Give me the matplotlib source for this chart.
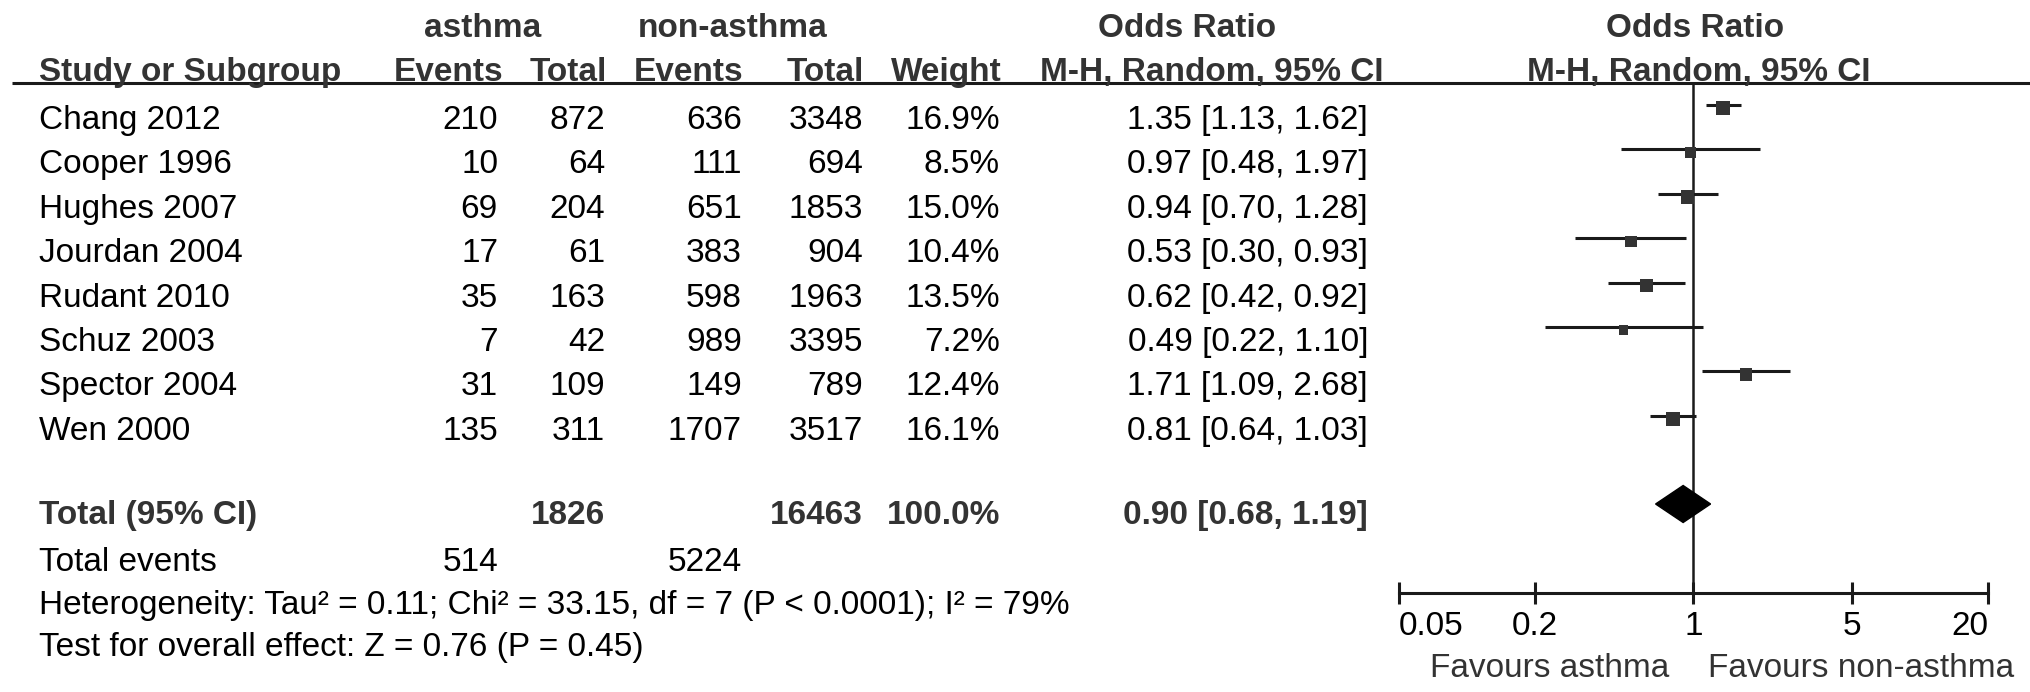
import numpy as np
import matplotlib
matplotlib.use("Agg")
import matplotlib.pyplot as plt
from matplotlib.patches import Polygon
from matplotlib.ticker import NullLocator

plt.rcParams['font.family'] = ['Liberation Sans', 'DejaVu Sans']

# data
studies = ["Chang 2012", "Cooper 1996", "Hughes 2007", "Jourdan 2004",
           "Rudant 2010", "Schuz 2003", "Spector 2004", "Wen 2000"]
asthma_events = [210, 10, 69, 17, 35, 7, 31, 135]
asthma_total = [872, 64, 204, 61, 163, 42, 109, 311]
non_events = [636, 111, 651, 383, 598, 989, 149, 1707]
non_total = [3348, 694, 1853, 904, 1963, 3395, 789, 3517]
weights = [16.9, 8.5, 15.0, 10.4, 13.5, 7.2, 12.4, 16.1]
odds = [1.35, 0.97, 0.94, 0.53, 0.62, 0.49, 1.71, 0.81]
ci_low = [1.13, 0.48, 0.70, 0.30, 0.42, 0.22, 1.09, 0.64]
ci_high = [1.62, 1.97, 1.28, 0.93, 0.92, 1.10, 2.68, 1.03]

total_asthma = 1826
total_non = 16463
total_events_asthma = 514
total_events_non = 5224
total_or = [0.90, 0.68, 1.19]  # estimate, low, high

tick_vals = [0.05, 0.2, 1, 5, 20]
tick_labels = ["0.05", "0.2", "1", "5", "20"]

heterogeneity = "Heterogeneity: Tau² = 0.11; Chi² = 33.15, df = 7 (P < 0.0001); I² = 79%"
overall = "Test for overall effect: Z = 0.76 (P = 0.45)"

W, H = 2031, 692
fs = 24
hdr_col = '#333333'
line_col = '#1a1a1a'

fig = plt.figure(figsize=(W / 100, H / 100), dpi=100)
tab = fig.add_axes([0, 0, 1, 1])
tab.set_xlim(0, W)
tab.set_ylim(H, 0)
tab.axis('off')

def txt(x, y, s, ha='left', bold=False, color='black'):
    tab.text(x, y, s, ha=ha, va='baseline', fontsize=fs,
             fontweight='bold' if bold else 'normal', color=color)

# header
txt(483, 37, "asthma", 'center', True, hdr_col)
txt(733, 37, "non-asthma", 'center', True, hdr_col)
txt(1187, 37, "Odds Ratio", 'center', True, hdr_col)
txt(1695, 37, "Odds Ratio", 'center', True, hdr_col)
txt(39, 81, "Study or Subgroup", 'left', True, hdr_col)
txt(503, 81, "Events", 'right', True, hdr_col)
txt(607, 81, "Total", 'right', True, hdr_col)
txt(743, 81, "Events", 'right', True, hdr_col)
txt(864, 81, "Total", 'right', True, hdr_col)
txt(1002, 81, "Weight", 'right', True, hdr_col)
txt(1383, 81, "M-H, Random, 95% CI", 'right', True, hdr_col)
txt(1699, 81, "M-H, Random, 95% CI", 'center', True, hdr_col)
tab.plot([12, W], [83, 83], color=line_col, lw=2.2, solid_capstyle='butt')

# study rows
row_base = 129
row_step = 44.4
for i, name in enumerate(studies):
    y = row_base + row_step * i
    txt(39, y, name)
    txt(498, y, str(asthma_events[i]), 'right')
    txt(605, y, str(asthma_total[i]), 'right')
    txt(742, y, str(non_events[i]), 'right')
    txt(863, y, str(non_total[i]), 'right')
    txt(1000, y, f"{weights[i]:.1f}%", 'right')
    txt(1368, y, f"{odds[i]:.2f} [{ci_low[i]:.2f}, {ci_high[i]:.2f}]", 'right')

# totals
txt(39, 524, "Total (95% CI)", 'left', True, hdr_col)
txt(605, 524, str(total_asthma), 'right', True, hdr_col)
txt(863, 524, str(total_non), 'right', True, hdr_col)
txt(1000, 524, "100.0%", 'right', True, hdr_col)
txt(1368, 524, f"{total_or[0]:.2f} [{total_or[1]:.2f}, {total_or[2]:.2f}]", 'right', True, hdr_col)
txt(39, 571, "Total events")
txt(498, 571, str(total_events_asthma), 'right')
txt(742, 571, str(total_events_non), 'right')
txt(39, 614, heterogeneity)
txt(39, 656, overall)

# forest panel
x0, x1 = 1399, 1988
y_top, y_axis = 83, 593
fa = fig.add_axes([x0 / W, (H - y_axis) / H, (x1 - x0) / W, (y_axis - y_top) / H])
fa.patch.set_alpha(0)
fa.set_xscale('log')
fa.set_xlim(tick_vals[0], tick_vals[-1])
fa.set_ylim(y_axis, y_top)
for s in ['top', 'left', 'right']:
    fa.spines[s].set_visible(False)
fa.spines['bottom'].set_linewidth(2.2)
fa.spines['bottom'].set_color(line_col)
fa.set_yticks([])
fa.set_xticks(tick_vals)
fa.set_xticklabels(tick_labels)
fa.xaxis.set_minor_locator(NullLocator())
fa.tick_params(axis='x', direction='inout', length=16, width=2.2,
               color=line_col, labelsize=fs, pad=5)
labs = fa.get_xticklabels()
labs[0].set_ha('left')
labs[-1].set_ha('right')

fa.axvline(1, color=line_col, lw=1.8)

ys = [105 + row_step * i for i in range(len(studies))]
fa.hlines(ys, ci_low, ci_high, color=line_col, lw=2.2)
# square side grows with study weight
sizes = [(3.5 * np.sqrt(w) * 0.72) ** 2 for w in weights]
fa.scatter(odds, [y + 3 for y in ys], s=sizes, marker='s', color='#333333',
           linewidths=0, zorder=3)

yd = 504
dh = 18.5
fa.add_patch(Polygon([(total_or[1], yd), (total_or[0], yd - dh),
                      (total_or[2], yd), (total_or[0], yd + dh)],
                     closed=True, color='black', zorder=3))

txt(1669, 677, "Favours asthma", 'right', color='#333333')
txt(1708, 677, "Favours non-asthma", 'left', color='#333333')

fig.savefig("out.png", dpi=100)
